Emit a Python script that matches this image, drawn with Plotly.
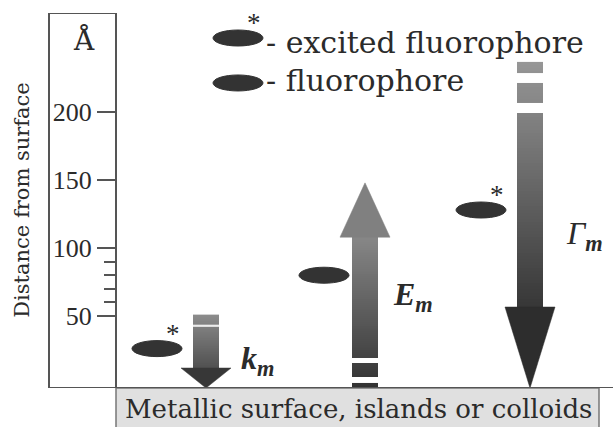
import numpy as np
import plotly.graph_objects as go

# ------------------------------------------------------------------ data
tick_vals = [50, 100, 150, 200]
tick_text = ["50", "100", "150", "200"]
minor_tick_vals = [60, 70, 80, 90]
axis_unit = "Å"
axis_title = "Distance from surface"
surface_label = "Metallic surface, islands or colloids"

fluor_states = ["excited", "ground", "excited"]
fluor_dist = [26, 80, 128]                 # Å from the surface

rate_base = ["k", "E", "Γ"]
rate_sub = ["m", "m", "m"]
rate_from = [51, -3, 237]                  # Å, arrow start
rate_to = [-3, 148, -3]                    # Å, arrow tip
rate_gaps = [[(42.0, 43.6)],
             [(15.4, 19.1), (0.7, 5.1)],
             [(221.5, 228.8), (199.4, 206.8)]]

legend_text = ["- excited fluorophore", "- fluorophore"]
legend_states = ["excited", "ground"]

# ---------------------------------------------------------------- layout / style
W, H = 613, 427
M_T, M_B = 13, 39
Y_RANGE = [-3, 273]
SURFACE = Y_RANGE[0]
AXIS_X = 116
BOX_LEFT = 49
GRAY_RIGHT = 599
PX_PER_A = (H - M_T - M_B) / (Y_RANGE[1] - Y_RANGE[0])

fluor_x = [157, 324, 481]
ell_w, ell_h = 50, 16 / PX_PER_A
star_dx, star_dy = 16, 15 / PX_PER_A

arrow_x = [206, 365, 530]
shaft_w, head_w = 26, 50
head_len = [14.7, 40, 59.6]
shaft_gray = [(140, 80), (50, 135), (150, 55)]   # gray level at start, at head base
head_gray = [55, 128, 45]

label_pos = [(257, 17.6), (413, 64), (584, 109.6)]
legend_x = 238
legend_y = [254.6, 221.5]
legend_text_y = [251.0, 223.5]

SERIF = "DejaVu Serif"
MATH = "Liberation Serif"
INK = "#2b2b2b"
LINE = "#555555"

fig = go.Figure()

def gray(v):
    v = int(round(v))
    return f"rgb({v},{v},{v})"

# arrows: gradient shafts (heatmaps) + triangular heads
for i in range(len(rate_base)):
    start, tip = rate_from[i], rate_to[i]
    d = np.sign(tip - start)
    base = tip - d * head_len[i]
    n = 80
    edges = np.linspace(start, base + d * 0.6, n + 1)
    g = np.linspace(shaft_gray[i][0], shaft_gray[i][1], n)
    if edges[0] > edges[-1]:
        edges = edges[::-1]
        g = g[::-1]
    ax = arrow_x[i]
    fig.add_trace(go.Heatmap(
        x=[ax - shaft_w / 2, ax + shaft_w / 2], y=edges, z=g.reshape(-1, 1),
        colorscale=[[0, "black"], [1, "white"]], zmin=0, zmax=255,
        showscale=False, hoverinfo="skip"))
    hc = gray(head_gray[i])
    fig.add_trace(go.Scatter(
        x=[ax - head_w / 2, ax + head_w / 2, ax, ax - head_w / 2],
        y=[base, base, tip, base], mode="lines", fill="toself",
        fillcolor=hc, line=dict(color=hc, width=0.5), hoverinfo="skip"))

shapes = []
# white gaps in the arrows
for i, gaps in enumerate(rate_gaps):
    for (a, b) in gaps:
        shapes.append(dict(type="rect", xref="x", yref="y",
                           x0=arrow_x[i] - shaft_w / 2 - 1, x1=arrow_x[i] + shaft_w / 2 + 1,
                           y0=a, y1=b, fillcolor="white", line=dict(width=0),
                           opacity=0.85 if i == 0 else 1))

annotations = []

def fluorophore(x, y, state):
    shapes.append(dict(type="circle", xref="x", yref="y",
                       x0=x - ell_w / 2, x1=x + ell_w / 2,
                       y0=y - ell_h / 2, y1=y + ell_h / 2,
                       fillcolor="#333333", line=dict(color="#333333", width=1)))
    if state == "excited":
        annotations.append(dict(x=x + star_dx, y=y + star_dy, xref="x", yref="y",
                                text="*", showarrow=False,
                                font=dict(family=MATH, size=27, color=INK)))

for x, y, s in zip(fluor_x, fluor_dist, fluor_states):
    fluorophore(x, y, s)
for y, s in zip(legend_y, legend_states):
    fluorophore(legend_x, y, s)
for ty, t in zip(legend_text_y, legend_text):
    annotations.append(dict(x=legend_x + 26, y=ty, xref="x", yref="y", text=t,
                            xanchor="left", showarrow=False,
                            font=dict(family=SERIF, size=30, color=INK)))

# rate labels
for i in range(len(rate_base)):
    b = f"<i>{rate_base[i]}</i>" if rate_base[i] == "Γ" else f"<b><i>{rate_base[i]}</i></b>"
    txt = b + f"<sub><b><i>{rate_sub[i]}</i></b></sub>"
    annotations.append(dict(x=label_pos[i][0], y=label_pos[i][1], xref="x", yref="y",
                            text=txt, showarrow=False,
                            font=dict(family=MATH, size=32, color=INK)))

# frame of the axis box and the surface line
shapes += [
    dict(type="line", xref="x", yref="y", x0=BOX_LEFT, x1=BOX_LEFT,
         y0=Y_RANGE[0], y1=Y_RANGE[1], line=dict(color=LINE, width=2)),
    dict(type="line", xref="x", yref="y", x0=BOX_LEFT, x1=AXIS_X,
         y0=Y_RANGE[1], y1=Y_RANGE[1], line=dict(color=LINE, width=2)),
    dict(type="rect", xref="x", yref="paper", x0=AXIS_X, x1=GRAY_RIGHT,
         y0=-0.12, y1=0, fillcolor="#e0e0e0", line=dict(color="#777777", width=1.5),
         layer="below"),
    dict(type="line", xref="x", yref="y", x0=BOX_LEFT, x1=W,
         y0=SURFACE, y1=SURFACE, line=dict(color=LINE, width=2)),
]

annotations += [
    dict(x=(AXIS_X + GRAY_RIGHT) / 2 + 1, y=-0.055, xref="x", yref="paper",
         yanchor="middle", text=surface_label, showarrow=False,
         font=dict(family=SERIF, size=26, color=INK)),
    dict(x=22, y=0.502, xref="x", yref="paper", yanchor="middle",
         text=axis_title, textangle=-90,
         showarrow=False, font=dict(family=SERIF, size=21, color=INK)),
    dict(x=(BOX_LEFT + AXIS_X) / 2 + 1, y=253, xref="x", yref="y", text=axis_unit,
         showarrow=False, font=dict(family=SERIF, size=28, color=INK)),
]

fig.update_layout(
    width=W, height=H,
    margin=dict(l=0, r=0, t=M_T, b=M_B, pad=0),
    paper_bgcolor="white", plot_bgcolor="white",
    showlegend=False,
    shapes=shapes, annotations=annotations,
    xaxis=dict(range=[0, W], visible=False, fixedrange=True),
    yaxis=dict(range=Y_RANGE, anchor="free", position=AXIS_X / W,
               showline=True, linecolor=LINE, linewidth=2,
               ticks="outside", ticklen=18, tickwidth=1.5, tickcolor=LINE,
               tickvals=tick_vals, ticktext=tick_text,
               tickfont=dict(family=MATH, size=26, color=INK),
               showgrid=False, zeroline=False, automargin=False, fixedrange=True,
               minor=dict(tickvals=minor_tick_vals, ticks="outside", ticklen=11,
                          tickwidth=1.5, tickcolor=LINE, showgrid=False)),
)

fig.write_html("out.html", config={"displayModeBar": False},
               post_script="document.body.style.margin='0';document.body.style.overflow='hidden';")
